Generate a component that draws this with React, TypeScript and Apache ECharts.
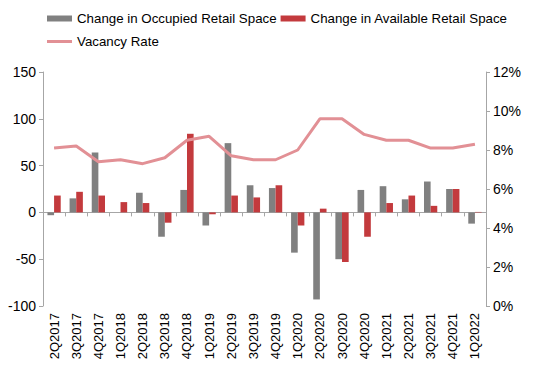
import React, { useEffect, useRef } from "react";
import * as echarts from "echarts";

const categories = ["2Q2017","3Q2017","4Q2017","1Q2018","2Q2018","3Q2018","4Q2018","1Q2019","2Q2019","3Q2019","4Q2019","1Q2020","2Q2020","3Q2020","4Q2020","1Q2021","2Q2021","3Q2021","4Q2021","1Q2022"];
const occupied = [-3, 15, 64, 0, 21, -26, 24, -14, 74, 29, 26, -43, -93, -50, 24, 28, 14, 33, 25, -12];
const available = [18, 22, 18, 11, 10, -11, 84, -2, 18, 16, 29, -14, 4, -53, -26, 10, 18, 7, 25, 0.5];
const vacancy = [8.1, 8.2, 7.4, 7.5, 7.3, 7.6, 8.5, 8.7, 7.7, 7.5, 7.5, 8.0, 9.6, 9.6, 8.8, 8.5, 8.5, 8.1, 8.1, 8.3];

const FONT = "'Liberation Sans', Arial, sans-serif";
const GRAY = "#808080";
const RED = "#c33a3d";
const PINK = "#e29095";
const AXIS = "#a6a6a6";

export default function App() {
  const ref = useRef<HTMLDivElement>(null);
  useEffect(() => {
    const chart = echarts.init(ref.current!, null, { renderer: "svg" });
    chart.setOption({
      animation: false,
      textStyle: { fontFamily: FONT },
      legend: [
        {
          left: 47,
          top: 12,
          padding: 0,
          itemWidth: 25,
          itemHeight: 6,
          itemGap: 4,
          icon: "rect",
          textStyle: { fontSize: 13.3, color: "#000", fontFamily: FONT },
          data: ["Change in Occupied Retail Space", "Change in Available Retail Space"],
        },
        {
          left: 47,
          top: 35,
          padding: 0,
          itemWidth: 25,
          itemHeight: 3,
          icon: "rect",
          textStyle: { fontSize: 13.3, color: "#000", fontFamily: FONT },
          data: ["Vacancy Rate"],
        },
      ],
      grid: { left: 43, right: 64, top: 72, bottom: 59, containLabel: false },
      xAxis: {
        type: "category",
        data: categories,
        axisLine: { onZero: true, lineStyle: { color: AXIS } },
        axisTick: { show: true, length: 4, inside: false, lineStyle: { color: AXIS } },
        axisLabel: {
          rotate: 90,
          interval: 0,
          fontSize: 13,
          color: "#000",
          fontFamily: FONT,
          margin: 7,
        },
        position: "bottom",
      },
      yAxis: [
        {
          type: "value",
          min: -100,
          max: 150,
          interval: 50,
          splitLine: { show: false },
          axisLine: { show: true, lineStyle: { color: AXIS } },
          axisTick: { show: true, length: 4, lineStyle: { color: AXIS } },
          axisLabel: { fontSize: 14, color: "#000", fontFamily: FONT, margin: 7 },
        },
        {
          type: "value",
          min: 0,
          max: 12,
          interval: 2,
          position: "right",
          splitLine: { show: false },
          axisLine: { show: true, lineStyle: { color: AXIS } },
          axisTick: { show: true, length: 4, lineStyle: { color: AXIS } },
          axisLabel: { fontSize: 14, color: "#000", fontFamily: FONT, margin: 7, formatter: (v: number) => v + "%" },
        },
      ],
      series: [
        {
          name: "Change in Occupied Retail Space",
          type: "bar",
          data: occupied,
          itemStyle: { color: GRAY },
          barGap: "0%",
          barCategoryGap: "40%",
        },
        {
          name: "Change in Available Retail Space",
          type: "bar",
          data: available,
          itemStyle: { color: RED },
          barGap: "0%",
          barCategoryGap: "40%",
        },
        {
          name: "Vacancy Rate",
          type: "line",
          yAxisIndex: 1,
          data: vacancy,
          symbol: "none",
          lineStyle: { color: PINK, width: 3 },
          itemStyle: { color: PINK },
          z: 3,
        },
      ],
    });
    return () => chart.dispose();
  }, []);
  return <div ref={ref} style={{ width: 550, height: 365, position: "absolute", left: 0, top: 0 }} />;
}
